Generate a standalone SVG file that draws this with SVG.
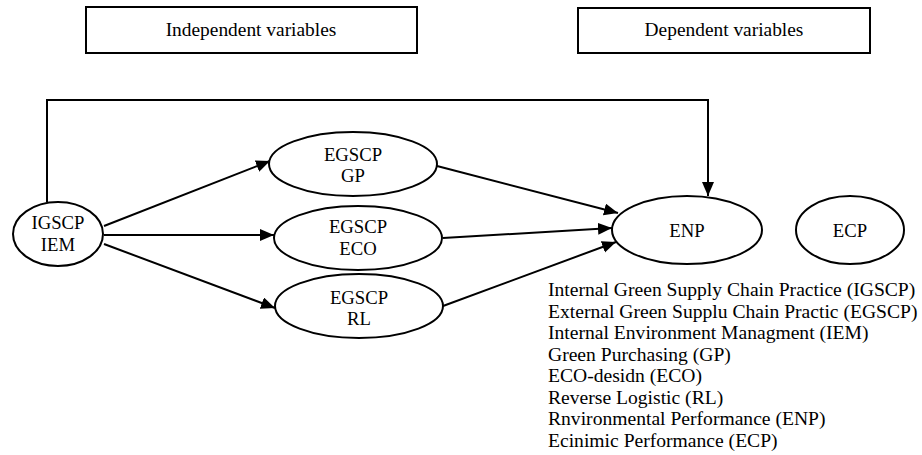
<svg xmlns="http://www.w3.org/2000/svg" width="922" height="455" viewBox="0 0 922 455">
<style>
text{font-family:"Liberation Serif","Times New Roman",serif;font-size:18.7px;fill:#000}
.c{text-anchor:middle}
.h{font-size:19.4px}
.l{font-size:19.6px}
.box,.node{fill:#fff;stroke:#000;stroke-width:2}
.edge{fill:none;stroke:#000;stroke-width:2}
</style>
<defs>
<marker id="ah" markerUnits="userSpaceOnUse" markerWidth="16" markerHeight="14" refX="14" refY="6" orient="auto">
<path d="M0,0 L14,6 L0,12 Z" fill="#000"/>
</marker>
</defs>
<g id="header-independent">
<rect class="box" x="86" y="7" width="331" height="46"/>
<text class="c h" x="251" y="36">Independent variables</text>
</g>
<g id="header-dependent">
<rect class="box" x="578" y="8" width="292" height="45"/>
<text class="c h" x="724" y="36">Dependent variables</text>
</g>
<g id="connectors">
<polyline class="edge" points="47,202 47,100 708,100 708,196" marker-end="url(#ah)"/>
<line class="edge" x1="104" y1="226" x2="270" y2="161" marker-end="url(#ah)"/>
<line class="edge" x1="104" y1="235" x2="274" y2="235" marker-end="url(#ah)"/>
<line class="edge" x1="104" y1="244" x2="275" y2="308" marker-end="url(#ah)"/>
<line class="edge" x1="437" y1="166" x2="618" y2="213" marker-end="url(#ah)"/>
<line class="edge" x1="443" y1="238" x2="612" y2="228" marker-end="url(#ah)"/>
<line class="edge" x1="443" y1="306" x2="616" y2="242" marker-end="url(#ah)"/>
</g>
<g id="IGSCP">
<ellipse class="node" cx="58" cy="234" rx="45" ry="32"/>
<text class="c" x="58" y="229">IGSCP</text>
<text class="c" x="58" y="251">IEM</text>
</g>
<g id="EGSCP-GP">
<ellipse class="node" cx="353" cy="164" rx="84" ry="32"/>
<text class="c" x="353" y="161">EGSCP</text>
<text class="c" x="353" y="182">GP</text>
</g>
<g id="EGSCP-ECO">
<ellipse class="node" cx="358" cy="238" rx="84" ry="32"/>
<text class="c" x="358" y="233">EGSCP</text>
<text class="c" x="358" y="255">ECO</text>
</g>
<g id="EGSCP-RL">
<ellipse class="node" cx="359" cy="306" rx="84" ry="32"/>
<text class="c" x="359" y="304">EGSCP</text>
<text class="c" x="359" y="325">RL</text>
</g>
<g id="ENP">
<ellipse class="node" cx="687" cy="230" rx="75" ry="34"/>
<text class="c" x="687" y="237">ENP</text>
</g>
<g id="ECP">
<ellipse class="node" cx="850" cy="230" rx="54" ry="34"/>
<text class="c" x="850" y="237">ECP</text>
</g>
<g id="legend">
<text class="l" x="548" y="296">Internal Green Supply Chain Practice (IGSCP)</text>
<text class="l" x="548" y="317.5">External Green Supplu Chain Practic (EGSCP)</text>
<text class="l" x="548" y="339">Internal Environment Managment (IEM)</text>
<text class="l" x="548" y="360.5">Green Purchasing (GP)</text>
<text class="l" x="548" y="382">ECO-desidn (ECO)</text>
<text class="l" x="548" y="403.5">Reverse Logistic (RL)</text>
<text class="l" x="548" y="425">Rnvironmental Performance (ENP)</text>
<text class="l" x="548" y="446.5">Ecinimic Performance (ECP)</text>
</g>
</svg>
